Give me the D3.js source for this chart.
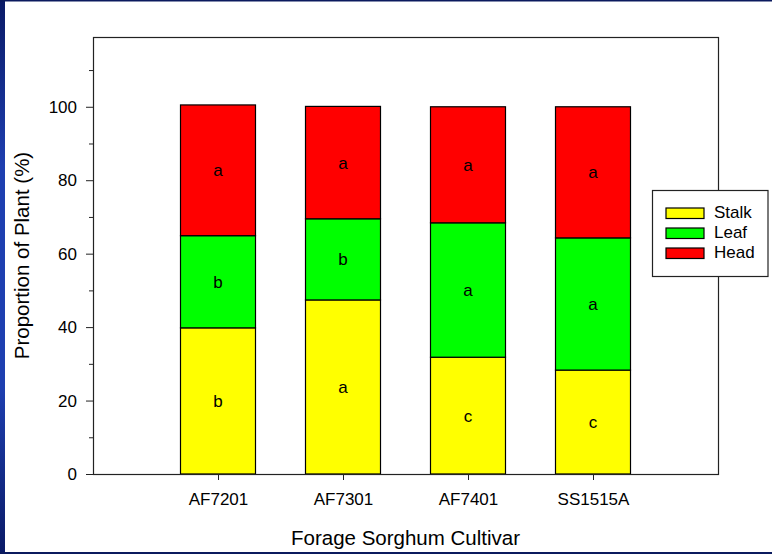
<!DOCTYPE html>
<html>
<head>
<meta charset="utf-8">
<script src="https://cdn.jsdelivr.net/npm/d3@7"></script>
<style>
  html, body { margin: 0; padding: 0; background: #fff; }
  svg { display: block; }
  text { font-family: "Liberation Sans", Arial, sans-serif; fill: #000; }
</style>
</head>
<body>
<svg id="chart" width="772" height="554"></svg>
<script>
// Plant fraction (%) by forage sorghum cultivar
const cultivars = ["AF7201", "AF7301", "AF7401", "SS1515A"];
const stalk = [39.8, 47.4, 31.8, 28.3];
const leaf  = [25.1, 22.1, 36.6, 36.0];
const head  = [35.6, 30.6, 31.6, 35.7];
// mean separation letters within each plant part
const stalkLetters = ["b", "a", "c", "c"];
const leafLetters  = ["b", "b", "a", "a"];
const headLetters  = ["a", "a", "a", "a"];
const parts = ["Stalk", "Leaf", "Head"];
const partColors = ["#ffff00", "#00ff00", "#ff0000"];
const yTickValues = d3.range(0, 111, 10);
const yLabelStep = 20;

const W = 772, H = 554;
const m = { left: 93, right: 718, top: 37, bottom: 474 };
const FONT = "Liberation Sans, Arial, sans-serif";

const svg = d3.select("#chart");

// slide background strips
const defs = svg.append("defs");
const grad = defs.append("linearGradient").attr("id", "slideBlue")
  .attr("x1", 0).attr("y1", 0).attr("x2", 0).attr("y2", 1);
grad.append("stop").attr("offset", "0%").attr("stop-color", "#0a1a66");
grad.append("stop").attr("offset", "30%").attr("stop-color", "#1e3fb0");
grad.append("stop").attr("offset", "70%").attr("stop-color", "#1e3fb0");
grad.append("stop").attr("offset", "100%").attr("stop-color", "#0a1a66");
svg.append("rect").attr("x", 0).attr("y", 0).attr("width", 5).attr("height", H).attr("fill", "url(#slideBlue)");
svg.append("rect").attr("x", 0).attr("y", 0).attr("width", W).attr("height", 1.5).attr("fill", "#0b1a5e");
svg.append("rect").attr("x", 0).attr("y", H - 2).attr("width", W).attr("height", 2).attr("fill", "#0b1a5e");

const rows = cultivars.map((c, i) => ({ cultivar: c, Stalk: stalk[i], Leaf: leaf[i], Head: head[i] }));
const letters = { Stalk: stalkLetters, Leaf: leafLetters, Head: headLetters };

const x = d3.scalePoint().domain(cultivars).range([m.left, m.right]).padding(1);
const barW = x.step() * 0.6;
const y = d3.scaleLinear().domain([0, 119]).range([m.bottom, m.top]);
const color = d3.scaleOrdinal().domain(parts).range(partColors);

const series = d3.stack().keys(parts)(rows);

// bars
const g = svg.append("g");
series.forEach(s => {
  g.selectAll(null).data(s).join("rect")
    .attr("x", d => x(d.data.cultivar) - barW / 2)
    .attr("y", d => y(d[1]))
    .attr("width", barW)
    .attr("height", d => y(d[0]) - y(d[1]))
    .attr("fill", color(s.key))
    .attr("stroke", "#000")
    .attr("stroke-width", 1.2);
});

// letters inside segments
series.forEach(s => {
  g.selectAll(null).data(s).join("text")
    .attr("x", d => x(d.data.cultivar))
    .attr("y", d => y((d[0] + d[1]) / 2))
    .attr("dy", "0.35em")
    .attr("text-anchor", "middle")
    .attr("font-size", 17)
    .text((d, i) => letters[s.key][i]);
});

// plot frame
svg.append("rect")
  .attr("x", m.left + 0.5).attr("y", m.top + 0.5)
  .attr("width", m.right - m.left).attr("height", m.bottom - m.top)
  .attr("fill", "none").attr("stroke", "#222").attr("stroke-width", 1.2);

// y axis
const yAxis = svg.append("g").attr("transform", `translate(${m.left},0)`)
  .call(d3.axisLeft(y).tickValues(yTickValues).tickSize(7).tickPadding(9)
    .tickFormat(d => d % yLabelStep === 0 ? d : ""));
yAxis.select(".domain").remove();
yAxis.selectAll(".tick line").attr("stroke", "#222")
  .attr("x2", d => d % yLabelStep === 0 ? -7 : -4);
yAxis.selectAll(".tick text").attr("font-size", 17).attr("font-family", FONT);

// x axis
const xAxis = svg.append("g").attr("transform", `translate(0,${m.bottom})`)
  .call(d3.axisBottom(x).tickSize(6).tickPadding(13));
xAxis.select(".domain").remove();
xAxis.selectAll(".tick line").attr("stroke", "#222");
xAxis.selectAll(".tick text").attr("font-size", 17).attr("font-family", FONT);

// axis titles
svg.append("text")
  .attr("x", (m.left + m.right) / 2).attr("y", 545)
  .attr("text-anchor", "middle").attr("font-size", 20.5)
  .text("Forage Sorghum Cultivar");
svg.append("text")
  .attr("transform", `translate(29,${(m.top + m.bottom) / 2}) rotate(-90)`)
  .attr("text-anchor", "middle").attr("font-size", 20.5)
  .text("Proportion of Plant (%)");

// legend
const lg = svg.append("g").attr("transform", "translate(652.5,190.5)");
lg.append("rect").attr("width", 115.5).attr("height", 86)
  .attr("fill", "#fff").attr("stroke", "#222").attr("stroke-width", 1.2);
parts.forEach((p, i) => {
  lg.append("rect").attr("x", 13.5).attr("y", 17.5 + i * 20)
    .attr("width", 38).attr("height", 10.5)
    .attr("fill", color(p)).attr("stroke", "#000").attr("stroke-width", 1.2);
  lg.append("text").attr("x", 61.5).attr("y", 27.5 + i * 20)
    .attr("font-size", 17).text(p);
});
</script>
</body>
</html>
